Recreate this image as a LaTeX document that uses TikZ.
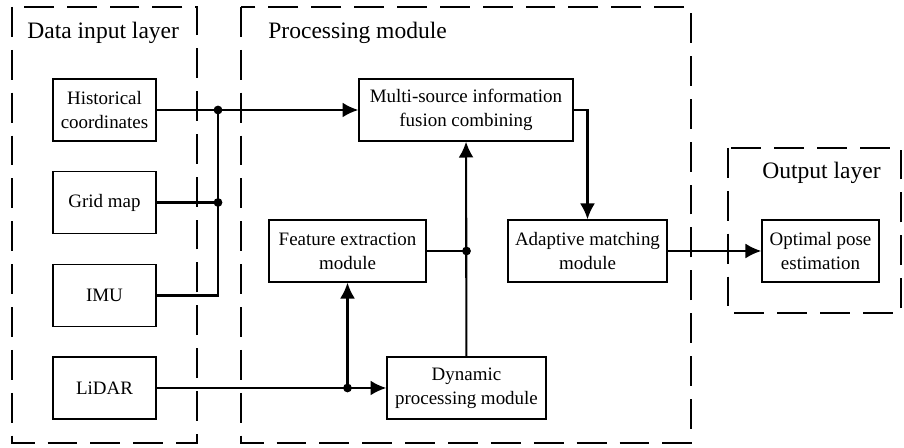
\documentclass[tikz,border=0pt]{standalone}
\usepackage{fontspec}
\setmainfont{Liberation Serif}
\usetikzlibrary{arrows.meta}

\begin{document}
\begin{tikzpicture}[x=0.02cm, y=-0.02cm]

      \useasboundingbox (0,0) rectangle (904,448);

      % dashed layers
      \begin{scope}[line width=0.8pt, dash pattern=on 17pt off 7.4pt]
        \draw (12,7) rectangle (197,443);
        \draw (241,7) rectangle (691,443);
        \draw (728,148) rectangle (901,313);
      \end{scope}

      \begin{scope}[every node/.style={anchor=west, inner sep=0pt, font=\fontsize{13.4}{16}\selectfont}]
        \node (t1) at (27,33)  {Data input layer};
        \node (t2) at (268,33) {Processing module};
        \node (t3) at (762,173) {Output layer};
      \end{scope}

      \begin{scope}[every node/.style={draw, line width=0.8pt, inner sep=1pt, align=center,
          minimum height=1.24cm, font=\fontsize{10.8}{13.6}\selectfont}]
        \node[minimum width=2.06cm] (hist)  at (104.5,110) {Historical\\coordinates};
        \node[minimum width=2.06cm] (grid)  at (104.5,202.5) {Grid map};
        \node[minimum width=2.06cm] (imu)   at (104.5,295.5) {IMU};
        \node[minimum width=2.06cm] (lidar) at (104.5,388) {LiDAR};
        \node[minimum width=4.28cm] (multi) at (466,110) {Multi-source information\\fusion combining};
        \node[minimum width=3.14cm] (feat)  at (347.5,251) {Feature extraction\\module};
        \node[minimum width=3.18cm] (dyn)   at (466.5,388) {Dynamic\\processing module};
        \node[minimum width=3.18cm] (adapt) at (587.5,251) {Adaptive matching\\module};
        \node[minimum width=2.34cm] (opt)   at (820.5,251) {Optimal pose\\estimation};
      \end{scope}

      \coordinate (j1) at (218,110);
      \coordinate (j2) at (218,202.5);
      \coordinate (j3) at (347.5,388);
      \coordinate (j4) at (466.5,251);

      \begin{scope}[line width=1.2pt, >={Latex[length=9pt,width=8.5pt]}]
        \draw[->] (hist) -- (multi);
        \draw (grid) -- (j2);
        \draw (imu) -| (j1);
        \draw[->] (lidar) -- (dyn);
        \draw[->] (j3) -- (feat);
        \draw[->] (dyn) -- (multi);
        \draw (feat) -- (j4);
        \draw[->] (multi.east) -| (adapt.north);
        \draw[->] (adapt) -- (opt);
        \foreach \j in {j1,j2,j3,j4}
          \fill (\j) circle (2.5pt);
      \end{scope}

    \end{tikzpicture}
\end{document}
